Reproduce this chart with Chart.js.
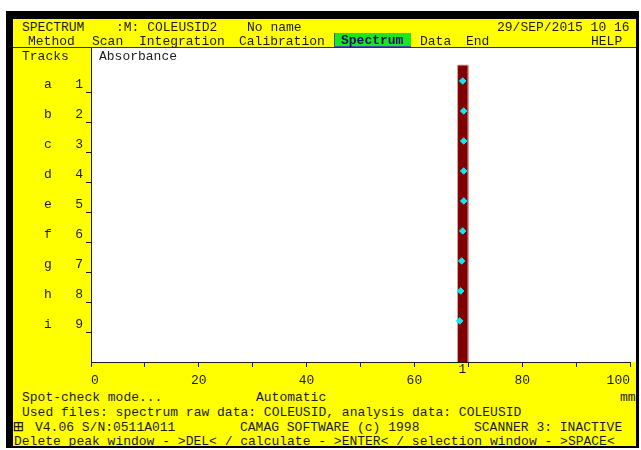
<!DOCTYPE html>
<html>
<head>
<meta charset="utf-8">
<script src="https://cdn.jsdelivr.net/npm/chart.js@4.4.0/dist/chart.umd.min.js"></script>
<style>
  body { margin: 0; background: #fff; width: 641px; height: 450px; overflow: hidden; position: relative;
         font-family: "Liberation Mono", "DejaVu Sans Mono", monospace; font-size: 13px; color: #1c1c1c; }
  #frame { position: absolute; left: 6px; top: 11px; width: 633px; height: 437px; background: #000; }
  #screen { position: absolute; left: 13px; top: 19px; width: 623px; height: 427px; background: #ffff00; }
  #sep { position: absolute; left: 13px; top: 47px; width: 623px; height: 1px; background: #333; }
  #plotBox { position: absolute; left: 13px; top: 48px; width: 623px; height: 342px; }
  #sel { position: absolute; left: 334px; top: 33px; width: 76px; height: 13px; background: #1ee61e;
         border-left: 1px solid #4050b0; border-bottom: 1px solid #4050b0; }
  .t { position: absolute; white-space: pre; line-height: 13px; z-index: 2; }
</style>
</head>
<body>
<div id="frame"></div>
<div id="screen"></div>
<div id="sep"></div>
<div id="sel"></div>

<!-- header -->
<div class="t" style="left:22px;top:21px">SPECTRUM</div>
<div class="t" style="left:116px;top:21px">:M: COLEUSID2</div>
<div class="t" style="left:247px;top:21px">No name</div>
<div class="t" style="left:497px;top:21px">29/SEP/2015 10 16</div>

<div class="t" style="left:28px;top:35px">Method</div>
<div class="t" style="left:92px;top:35px">Scan</div>
<div class="t" style="left:139px;top:35px">Integration</div>
<div class="t" style="left:239px;top:35px">Calibration</div>
<div class="t" style="left:341px;top:34px;color:#10106a;font-weight:bold">Spectrum</div>
<div class="t" style="left:420px;top:35px">Data</div>
<div class="t" style="left:466px;top:35px">End</div>
<div class="t" style="left:591px;top:35px">HELP</div>

<div class="t" style="left:22px;top:50px">Tracks</div>

<div id="plotBox"><canvas id="spectrumChart" width="623" height="342"></canvas></div>
<div class="t" style="left:99px;top:50px">Absorbance</div>

<!-- footer -->
<div class="t" style="left:620px;top:391px">mm</div>
<div class="t" style="left:22px;top:391px">Spot-check mode...</div>
<div class="t" style="left:256px;top:391px">Automatic</div>
<div class="t" style="left:22px;top:406px">Used files: spectrum raw data: COLEUSID, analysis data: COLEUSID</div>
<div class="t" style="left:13px;top:421px;font-size:17px">⊞</div>
<div class="t" style="left:35px;top:421px">V4.06 S/N:0511A011</div>
<div class="t" style="left:240px;top:421px">CAMAG SOFTWARE (c) 1998</div>
<div class="t" style="left:474px;top:421px">SCANNER 3: INACTIVE</div>
<div class="t" style="left:14px;top:435px">Delete peak window - &gt;DEL&lt; / calculate - &gt;ENTER&lt; / selection window - &gt;SPACE&lt;</div>

<script>
const tracks = [1, 2, 3, 4, 5, 6, 7, 8, 9];
const trackLetters = ["a", "b", "c", "d", "e", "f", "g", "h", "i"];
// peak position (mm) found on each track
const peakPos = [68.96, 69.15, 69.15, 69.15, 69.15, 68.96, 68.78, 68.59, 68.41];
const xTickLabels = [0, 20, 40, 60, 80, 100];
// peak window (mm) and its top edge (track units)
const windowStart = 68.0;
const windowEnd = 70.0;
const windowTop = 0.47;
const peakLabel = "1";

const yMin = -0.1;
const yMax = 10.37;

Chart.defaults.font.family = '"Liberation Mono", "DejaVu Sans Mono", monospace';
Chart.defaults.font.size = 13;
Chart.defaults.color = "#1c1c1c";

const peakMean = peakPos.reduce((a, b) => a + b, 0) / peakPos.length;

// no extra padding from tick labels
const noPad = s => { s.paddingTop = 0; s.paddingBottom = 0; s.paddingLeft = 0; s.paddingRight = 0; };

const screenPlugin = {
  id: "screen",
  beforeDraw(chart) {
    const { ctx, chartArea: a, width, height } = chart;
    ctx.save();
    ctx.fillStyle = "#ffff00";
    ctx.fillRect(0, 0, width, height);
    ctx.fillStyle = "#ffffff";
    ctx.fillRect(a.left, 0, width - a.left, a.bottom);
    ctx.restore();
  },
  afterDraw(chart) {
    const { ctx, chartArea: a } = chart;
    const x = chart.scales.x;
    ctx.save();
    ctx.fillStyle = "#1c1c1c";
    ctx.font = '13px "Liberation Mono", monospace';
    ctx.textAlign = "center";
    ctx.textBaseline = "middle";
    ctx.fillText(peakLabel, x.getPixelForValue(peakMean), a.bottom + 8);
    const ex = Math.round(x.getPixelForValue(windowEnd)) + 0.5;
    ctx.strokeStyle = "#1c1c1c";
    ctx.lineWidth = 1;
    ctx.beginPath();
    ctx.moveTo(ex, a.bottom);
    ctx.lineTo(ex, a.bottom + 3);
    ctx.stroke();
    ctx.restore();
  }
};

new Chart(document.getElementById("spectrumChart"), {
  type: "scatter",
  data: {
    datasets: [
      {
        data: tracks.map((t, i) => ({ x: peakPos[i], y: t })),
        pointStyle: "rectRot",
        pointRadius: 3.3,
        pointBorderWidth: 1,
        backgroundColor: "#12e6f0",
        borderColor: "#12e6f0",
        order: 0
      },
      {
        type: "line",
        data: [
          { x: windowStart, y: yMax },
          { x: windowStart, y: windowTop },
          { x: windowEnd, y: windowTop },
          { x: windowEnd, y: yMax }
        ],
        borderColor: "#d8a0a0",
        borderWidth: 1,
        backgroundColor: "#800000",
        fill: { value: yMax },
        pointRadius: 0,
        tension: 0,
        order: 1
      }
    ]
  },
  options: {
    responsive: false,
    animation: false,
    events: [],
    layout: { autoPadding: false, padding: { top: 0, right: 6, bottom: 0, left: 0 } },
    plugins: { legend: { display: false }, tooltip: { enabled: false } },
    scales: {
      x: {
        type: "linear",
        min: 0,
        max: 100,
        afterFit: s => { s.height = 28; noPad(s); },
        grid: { drawOnChartArea: false, tickLength: 5, color: "#1c1c1c" },
        border: { color: "#1c1c1c" },
        ticks: {
          stepSize: 10,
          autoSkip: false,
          maxRotation: 0,
          align: "inner",
          padding: 6,
          callback: v => xTickLabels.includes(v) ? String(v) : ""
        }
      },
      y: {
        type: "linear",
        reverse: true,
        min: yMin,
        max: yMax,
        afterFit: s => { s.width = 78; noPad(s); },
        afterBuildTicks: s => { s.ticks = tracks.map(t => ({ value: t + 0.4 })); },
        grid: { drawOnChartArea: false, tickLength: 5, color: "#1c1c1c" },
        border: { color: "#1c1c1c" },
        ticks: {
          padding: 3,
          labelOffset: -8,
          autoSkip: false,
          callback: (v, i) => trackLetters[i] + "   " + tracks[i]
        }
      }
    }
  },
  plugins: [screenPlugin]
});
</script>
</body>
</html>
